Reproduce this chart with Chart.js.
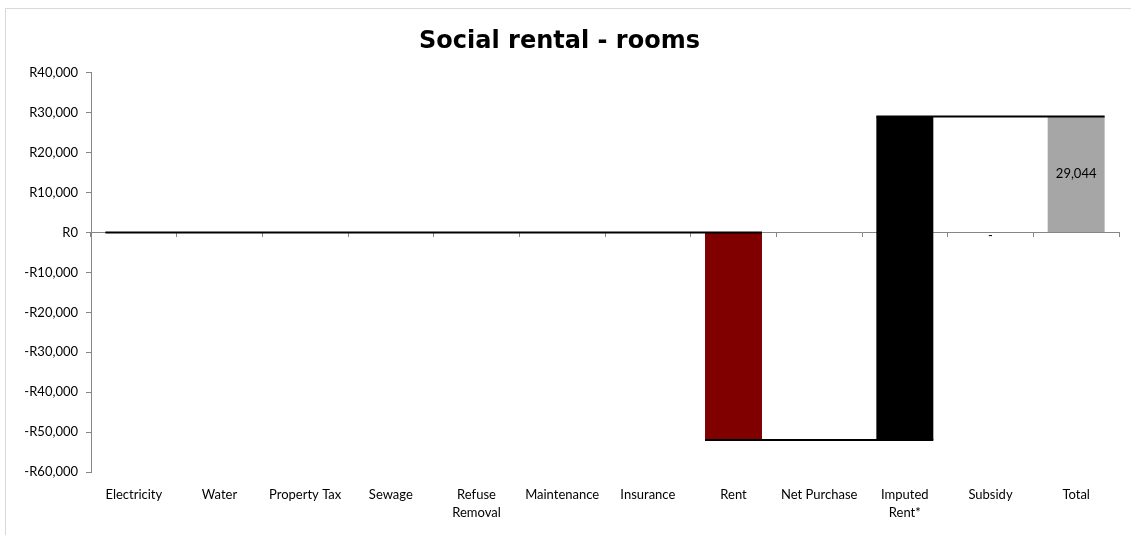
<!DOCTYPE html>
<html>
<head>
<meta charset="utf-8">
<script src="https://cdn.jsdelivr.net/npm/chart.js@4"></script>
<style>
  html, body { margin: 0; padding: 0; background: #fff; }
  #wrap { position: relative; width: 1131px; height: 535px; overflow: hidden; }
  #frame { position: absolute; left: 5px; top: 8px; width: 1200px; height: 600px; border: 1px solid #d9d9d9; pointer-events: none; }
</style>
</head>
<body>
<div id="wrap">
  <canvas id="waterfall" width="1131" height="535"></canvas>
  <div id="frame"></div>
</div>
<script>
// categories and step values (Total is the closing balance)
const categories = ['Electricity', 'Water', 'Property Tax', 'Sewage', ['Refuse', 'Removal'], 'Maintenance',
    'Insurance', 'Rent', 'Net Purchase', ['Imputed', 'Rent*'], 'Subsidy', 'Total'];
const changes = [0, 0, 0, 0, 0, 0, 0, -52000, 0, 81044, 0];
const total = 29044;
const barColors = ['#000000', '#000000', '#000000', '#000000', '#000000', '#000000', '#000000',
    '#800000', '#000000', '#000000', '#000000', '#a6a6a6'];
const showLabel = [false, false, false, false, false, false, false, false, false, false, true, true];
const yTicks = [40000, 30000, 20000, 10000, 0, -10000, -20000, -30000, -40000, -50000, -60000];

// floating bars: [start, end] of each step
let running = 0;
const bars = changes.map(c => {
    const from = running;
    running += c;
    return [from, running];
});
bars.push([0, total]);
const levels = bars.map(b => b[1]);
// empty steps get no fill
const fills = bars.map((b, i) => (b[0] === b[1] ? 'rgba(0,0,0,0)' : barColors[i]));

const money = v => (v < 0 ? '-R' : 'R') + Math.abs(v).toLocaleString('en-US');
const axisGrey = '#868686';
const labelFont = { family: 'Lato', size: 13, lineHeight: 1.4 };

// connector from the left of each bar to the right of the next one
const connectors = {
    id: 'connectors',
    afterDatasetsDraw(chart) {
        const bars = chart.getDatasetMeta(0).data;
        const y = chart.scales.y;
        const c = chart.ctx;
        c.save();
        c.strokeStyle = '#000';
        c.lineWidth = 2;
        c.beginPath();
        levels.forEach((lv, i) => {
            const a = bars[i];
            const b = bars[Math.min(i + 1, bars.length - 1)];
            const py = y.getPixelForValue(lv);
            c.moveTo(a.x - a.width / 2, py);
            c.lineTo(b.x + b.width / 2, py);
        });
        c.stroke();
        c.restore();
    }
};

const valueLabels = {
    id: 'valueLabels',
    afterDraw(chart) {
        const bars = chart.getDatasetMeta(0).data;
        const y = chart.scales.y;
        const c = chart.ctx;
        c.save();
        c.fillStyle = '#000';
        c.font = '13px Lato';
        c.textAlign = 'center';
        c.textBaseline = 'middle';
        showLabel.forEach((show, i) => {
            if (!show) return;
            const v = i < changes.length ? changes[i] : total;
            const mid = (bars[i].y + bars[i].base) / 2;
            if (v === 0) {
                c.fillText('-', bars[i].x, y.getPixelForValue(0) + 3);
            } else {
                c.fillText(v.toLocaleString('en-US'), bars[i].x, mid);
            }
        });
        c.restore();
    }
};

new Chart(document.getElementById('waterfall'), {
    type: 'bar',
    data: {
        labels: categories,
        datasets: [{
            data: bars,
            backgroundColor: fills,
            borderWidth: 0,
            categoryPercentage: 1,
            barPercentage: 0.665
        }]
    },
    options: {
        responsive: false,
        animation: false,
        layout: { padding: { left: 0, right: 12, top: 0, bottom: 0 } },
        plugins: {
            legend: { display: false },
            tooltip: { enabled: false },
            title: {
                display: true,
                text: 'Social rental - rooms',
                color: '#000',
                font: { family: 'DejaVu Sans', size: 24, weight: 'bold', lineHeight: 1.2 },
                padding: { top: 27, bottom: 17 }
            }
        },
        scales: {
            x: {
                position: 'bottom',
                grid: { display: false, drawTicks: false },
                border: { display: false },
                ticks: { color: '#000', font: labelFont, padding: 14, maxRotation: 0, autoSkip: false },
                afterFit(scale) { scale.height = 63; }
            },
            x2: {
                type: 'category',
                labels: categories,
                position: { y: 0 },
                offset: true,
                grid: { offset: true, drawOnChartArea: false, drawTicks: true, tickLength: 4, color: axisGrey },
                border: { color: axisGrey },
                ticks: { display: false }
            },
            y: {
                min: -60000,
                max: 40000,
                afterBuildTicks(scale) { scale.ticks = yTicks.map(v => ({ value: v })); },
                grid: { drawOnChartArea: false, drawTicks: true, tickLength: 5, color: axisGrey },
                border: { color: axisGrey },
                ticks: { color: '#000', font: labelFont, padding: 8, callback: v => money(v) },
                afterFit(scale) { scale.width = 91; }
            }
        }
    },
    plugins: [connectors, valueLabels]
});
</script>
</body>
</html>
